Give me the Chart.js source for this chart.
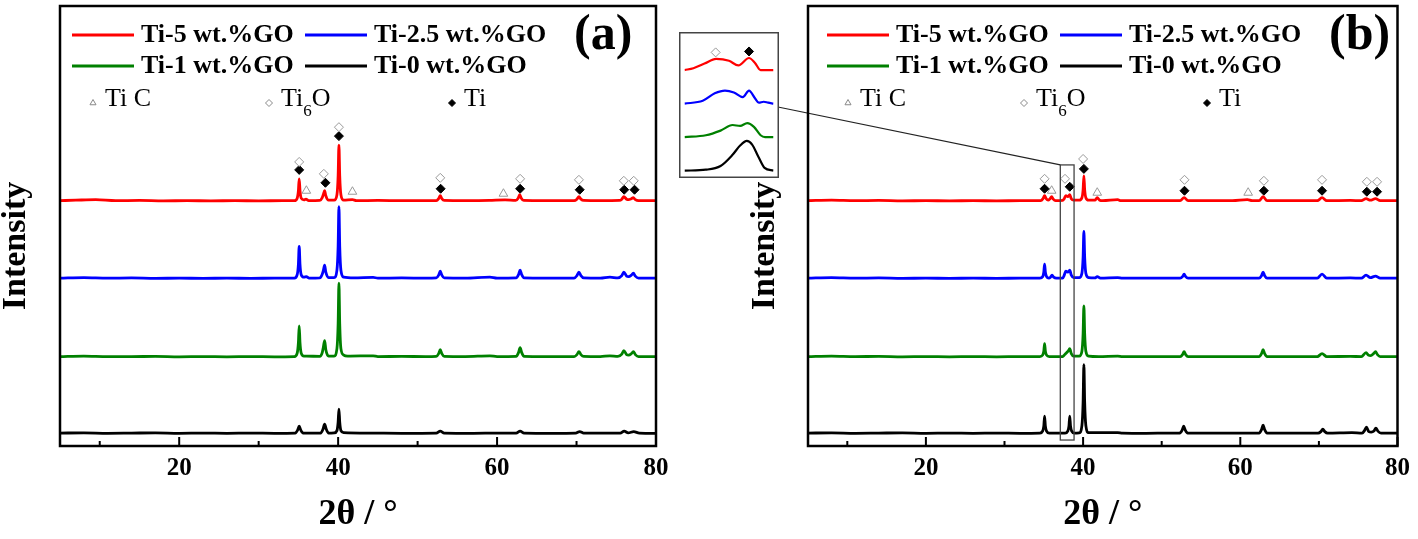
<!DOCTYPE html>
<html>
<head>
<meta charset="utf-8">
<script src="https://cdn.jsdelivr.net/npm/chart.js@4.4.1/dist/chart.umd.min.js"></script>
<style>
  body { margin: 0; background: #fff; }
  #wrap { position: relative; width: 1418px; height: 539px; background: #fff; overflow: hidden; }
  canvas { position: absolute; }
  #chartA { left: 0; top: 0; }
  #chartB { left: 680px; top: 0; }
  #inset { left: 679px; top: 32px; z-index: 2; }
</style>
</head>
<body>
<div id="wrap">
  <canvas id="chartA" width="680" height="539" style="width:680px;height:539px"></canvas>
  <canvas id="chartB" width="738" height="539" style="width:738px;height:539px"></canvas>
  <canvas id="inset" width="100" height="146" style="width:100px;height:146px"></canvas>
</div>
<script>
// Подписи серий и фаз
const seriesNames = ['Ti-5 wt.%GO', 'Ti-2.5 wt.%GO', 'Ti-1 wt.%GO', 'Ti-0 wt.%GO'];
const seriesColors = ['#ff0000', '#0000ff', '#008000', '#000000'];
// Сдвиг кривых по оси интенсивности (красная, синяя, зелёная, чёрная)
const seriesOffsets = [246, 168, 89, 12];
const xTicks = [10, 20, 30, 40, 50, 60, 70, 80];

// Панель (a): [2θ, интенсивность]
const redA = [[5,1],[7,1.5],[9.5,2],[12,1],[15,1.2],[18,0.8],[21,1],[24,0.8],[27,1],[30,0.8],[33,1],
  [34.5,1],[34.85,3.5],[35.0,11],[35.1,23],[35.2,11],[35.35,3.5],[35.7,1.8],[35.95,2.5],[36.3,1],
  [37.7,1.2],[38.0,4],[38.15,7.5],[38.3,11],[38.45,6],[38.8,1.5],
  [39.5,1.5],[39.85,7],[40.0,26],[40.1,57],[40.2,26],[40.35,7],[40.7,1.5],[41.8,2],[42.3,1],
  [45,1.2],[48,1],[51,1],[52.35,1],[52.65,3],[52.85,6],[53.05,3],[53.35,1.2],[56,1],[59,1.2],[61,1.8],
  [62.35,1.2],[62.65,3.5],[62.85,7],[63.05,3.5],[63.35,1.2],[66,1],[69.7,1],[70.05,2.5],[70.3,5],[70.55,2.5],[70.9,1.2],[73,1],[75.4,1.2],
  [75.7,2.5],[75.95,5],[76.3,2.5],[76.55,2],[76.9,3],[77.15,4],[77.4,2],[77.8,1],[80,1]];
const blueA = [[5,1],[8,1.5],[11,1],[14,1.2],[17,0.8],[20,1],[23,0.8],[26,1],[29,0.8],[32,1],
  [34.5,1],[34.85,4.5],[35.0,15],[35.1,33],[35.2,15],[35.35,4.5],[35.7,2],[36.0,2.5],[36.35,1],
  [37.7,1.2],[38.0,5],[38.15,9],[38.3,14],[38.45,7],[38.8,1.5],
  [39.5,1.5],[39.85,9],[40.0,33],[40.1,73],[40.2,33],[40.35,9],[40.7,2],[42,1.2],[44.4,1.8],[45,1],
  [48,1.2],[51,1],[52.35,1.2],[52.65,4],[52.85,8],[53.05,4],[53.35,1.2],[56,1],[59.1,2],[60,1],
  [62.4,1.2],[62.7,4.5],[62.9,9],[63.1,4.5],[63.4,1.2],[66,1],[69.7,1],[70.05,3.5],[70.3,7],[70.55,3.5],[70.9,1.2],[73,1],[74.2,2],[75.2,1.2],
  [75.7,3.5],[75.95,7],[76.3,3],[76.55,2.5],[76.9,4],[77.15,6],[77.4,3],[77.8,1],[80,1]];
const greenA = [[5,1],[8,1.5],[11,1],[14,1],[17,1.2],[20,0.8],[23,1],[26,0.8],[29,1],[32,0.8],
  [34.5,1],[34.85,4.5],[35.0,15],[35.1,32],[35.2,15],[35.35,4.5],[35.7,1.5],[36.0,1.5],
  [37.7,1.2],[38.0,5],[38.15,11],[38.3,17],[38.45,8],[38.8,1.5],
  [39.5,1.5],[39.85,9],[40.0,34],[40.1,75],[40.2,34],[40.35,9],[40.7,2.5],[41.2,1.5],[44.4,1.8],[45,1],
  [48,1.2],[51,1],[52.35,1.2],[52.65,4],[52.85,8],[53.05,4],[53.35,1.2],[56,1],[59.1,1.8],[60,1],
  [62.4,1.2],[62.7,5],[62.9,10],[63.1,5],[63.4,1.2],[66,1],[69.7,1],[70.05,3],[70.3,6],[70.55,3],[70.9,1.2],[73,1],[74.2,1.8],[75.2,1.2],
  [75.7,3.5],[75.95,7],[76.3,3],[76.55,2.5],[76.9,4],[77.15,6],[77.4,3],[77.8,1],[80,1]];
const blackA = [[5,1],[8,1.2],[11,0.8],[14,1],[17,1.2],[20,0.8],[23,1],[26,0.8],[29,1],[32,0.8],
  [34.6,1],[34.9,4],[35.1,8],[35.3,4],[35.6,1],
  [37.8,1],[38.1,5],[38.3,10],[38.5,5],[38.8,1],
  [39.5,1.2],[39.85,3.5],[40.0,12],[40.1,25],[40.2,12],[40.35,3.5],[40.7,1.5],
  [44,1],[48,0.8],[52.35,1],[52.85,3],[53.35,1],[57,0.8],[60,1],
  [62.4,1],[62.9,3],[63.4,1],[67,0.8],[69.9,1],[70.4,2.5],[70.9,1],[74,1],
  [75.5,1],[76.0,3],[76.5,1.2],[77.2,2.5],[77.9,1],[80,0.8]];

// Панель (b)
const redB = [[5,1],[8,1.5],[11,1],[14,1.2],[17,0.8],[20,1],[23,0.8],[26,1],[29,0.8],[32,1],
  [34.6,1],[34.9,3],[35.1,6],[35.3,3],[35.55,1.5],[35.8,3],[36.0,5],[36.2,2.5],[36.5,1],
  [37.4,1.2],[37.6,3],[37.8,6],[38.05,5],[38.3,7],[38.5,3],[38.8,1.5],
  [39.5,1.5],[39.85,4],[40.0,12],[40.1,26],[40.2,12],[40.35,4],[40.7,1.5],[41.5,1.5],[41.8,4],[42.1,1.5],[42.5,1],[44.4,2],[44.8,1],
  [48,1],[51,1],[52.35,1],[52.85,4],[53.35,1],[56,1],[59,1],[60.9,2],[61.5,1],
  [62.4,1],[62.9,5],[63.4,1],[66,1],[69.8,1],[70.4,4],[71,1],[74,1.2],[75.4,1],
  [76.0,3],[76.55,1.5],[77.2,3],[77.8,1],[80,1]];
const blueB = [[5,1],[8,1.5],[11,1],[14,1.2],[17,0.8],[20,1],[23,0.8],[26,1],[29,0.8],[32,1],
  [34.5,1],[34.85,2.5],[35.0,7],[35.1,15],[35.2,7],[35.35,2.5],[35.65,1],[35.85,2],[36.05,4],[36.25,2],[36.6,1],
  [37.4,1],[37.6,4],[37.8,8],[38.05,7],[38.3,9],[38.5,4],[38.8,1.5],
  [39.5,1.5],[39.85,6],[40.0,22],[40.1,48],[40.2,22],[40.35,6],[40.7,1.5],[41.5,1.2],[41.8,2.5],[42.2,1],[44.4,1.5],[45,1],
  [48,1],[51,1],[52.35,1],[52.65,2.5],[52.85,5],[53.05,2.5],[53.35,1],[56,1],[59,1],
  [62.4,1],[62.7,3.5],[62.9,7],[63.1,3.5],[63.4,1],[66,1],[69.8,1],[70.4,5],[71,1],[74,1.2],[75.4,1],
  [76.0,4],[76.55,1.5],[77.2,3],[77.8,1],[80,1]];
const greenB = [[5,1],[8,1.5],[11,1],[14,1.2],[17,0.8],[20,1],[23,0.8],[26,1],[29,0.8],[32,1],
  [34.5,1],[34.85,2.5],[35.0,6.5],[35.1,14],[35.2,6.5],[35.35,2.5],[35.7,1],
  [37.4,1],[37.65,3],[37.9,5],[38.1,6.5],[38.3,9],[38.5,4],[38.8,1.5],
  [39.5,1.5],[39.85,6.5],[40.0,24],[40.1,52],[40.2,24],[40.35,6.5],[40.7,1.5],[42,1],[44.4,1.5],[45,1],
  [48,1],[51,1],[52.35,1],[52.65,3],[52.85,6],[53.05,3],[53.35,1],[56,1],[59,1],
  [62.4,1],[62.7,4],[62.9,8],[63.1,4],[63.4,1],[66,1],[69.8,1],[70.4,4],[71,1],[74,1.2],[75.4,1],
  [76.0,5],[76.3,2.5],[76.6,2],[76.95,4],[77.2,6],[77.45,3],[77.8,1],[80,1]];
const blackB = [[5,1],[8,1.2],[11,0.8],[14,1],[17,1.2],[20,0.8],[23,1],[26,0.8],[29,1],[32,0.8],
  [34.5,1],[34.85,3],[35.0,8],[35.1,18],[35.2,8],[35.35,3],[35.7,1],
  [37.7,1],[38.05,3],[38.2,8],[38.3,18],[38.4,8],[38.55,3],[38.9,1],
  [39.5,1.2],[39.85,8.5],[40.0,32],[40.1,70],[40.2,32],[40.35,8.5],[40.7,1.5],[44.4,1.5],[45,1],
  [48,0.8],[51,1],[52.3,1],[52.6,4],[52.8,8],[53.0,4],[53.3,1],[56,1],[59,1],
  [62.4,1],[62.7,4.5],[62.9,9],[63.1,4.5],[63.4,1],[66,1],[69.9,1],[70.25,2.5],[70.5,5],[70.75,2.5],[71.1,1],[74.2,1.5],[75.5,1],
  [75.8,3.5],[76.05,7],[76.35,2.5],[76.65,2],[77.0,3],[77.25,6],[77.5,3],[77.9,1],[80,1]];

// Метки фаз над пиками: ◇ Ti6O, ◆ Ti, △ TiC
const ti6oA = [[35.1,286],[38.2,274],[40.1,321],[52.85,270],[62.9,269],[70.3,268],[75.95,267],[77.2,267]];
const tiA = [[35.1,278],[38.4,265],[40.1,312],[52.9,259],[62.9,259],[70.4,258],[76.0,258],[77.3,258]];
const ticA = [[36.0,257],[41.8,256],[60.8,254]];
const ti6oB = [[35.1,269],[37.7,269],[40.0,289],[52.9,268],[63.0,267],[70.4,268],[76.1,266],[77.4,266]];
const tiB = [[35.1,259],[38.3,261],[40.1,279],[52.9,257],[63.0,257],[70.4,257],[76.1,256],[77.4,256]];
const ticB = [[36.0,257],[41.8,255],[61.0,255]];

// Окно увеличения: 2θ от, до; интенсивность от, до
const zoomWindow = [37.1, 38.85, 6, 283];

// Вставка (увеличенный участок 37–39°)
const redInset = [[37.0,110],[37.2,112],[37.45,117],[37.71,122],[38.0,120],[38.21,115],[38.45,123],[38.58,118],[38.71,110],[39.0,110]];
const blueInset = [[37.0,74],[37.41,77],[37.68,85],[37.91,88],[38.11,86],[38.31,81],[38.45,88],[38.58,80],[38.67,75],[38.78,76],[38.88,75],[39.0,74]];
const greenInset = [[37.0,38],[37.48,40],[37.81,45],[38.08,51],[38.25,50],[38.41,53],[38.56,49],[38.71,40],[38.81,38],[39.0,38]];
const blackInset = [[37.0,2],[37.48,3],[37.81,7],[38.08,19],[38.25,29],[38.4,34],[38.52,30],[38.66,17],[38.8,5],[39.0,2]];
const ti6oInset = [[37.7,129]];
const tiInset = [[38.45,130]];

Chart.defaults.font.family = '"Liberation Serif", "Times New Roman", serif';
Chart.defaults.color = '#000';

const FONT = '"Liberation Serif", "Times New Roman", serif';

function shift(points, off) {
    return points.map(p => [p[0], p[1] + off]);
}

function lineSet(points, i, width) {
    return {
        data: shift(points, seriesOffsets[i] || 0),
        borderColor: seriesColors[i],
        borderWidth: width || 2.8,
        pointRadius: 0,
        fill: false,
        cubicInterpolationMode: 'monotone'
    };
}

function markerSet(points, style, fillColor, strokeColor, radius) {
    return {
        type: 'scatter',
        data: points,
        showLine: false,
        pointStyle: style,
        pointRadius: radius,
        pointBackgroundColor: fillColor,
        pointBorderColor: strokeColor,
        pointBorderWidth: 1
    };
}

function drawMark(ctx, style, fill, stroke, r, x, y) {
    ctx.fillStyle = fill;
    ctx.strokeStyle = stroke;
    ctx.lineWidth = 1;
    Chart.helpers.drawPoint(ctx, { pointStyle: style, radius: r, borderWidth: 1 }, x, y);
}

// Рамка, засечки, легенда и окно увеличения
const panelDecor = {
    id: 'panelDecor',
    afterDatasetsDraw(chart, args, opts) {
        const { ctx, chartArea: a, scales: { x, y } } = chart;
        ctx.save();

        // засечки внутрь
        ctx.strokeStyle = '#000';
        ctx.lineWidth = 2;
        xTicks.forEach(v => {
            const px = x.getPixelForValue(v);
            const len = v % 20 === 0 ? 9 : 5;
            ctx.beginPath();
            ctx.moveTo(px, a.bottom);
            ctx.lineTo(px, a.bottom - len);
            ctx.stroke();
        });

        // окно увеличения и линия к вставке
        if (opts.zoom) {
            const x1 = x.getPixelForValue(zoomWindow[0]);
            const x2 = x.getPixelForValue(zoomWindow[1]);
            const yb = y.getPixelForValue(zoomWindow[2]);
            const yt = y.getPixelForValue(zoomWindow[3]);
            ctx.strokeStyle = '#444';
            ctx.lineWidth = 1.3;
            ctx.strokeRect(x1, yt, x2 - x1, yb - yt);
            const inset = document.getElementById('inset');
            const ox = inset.offsetLeft + inset.width - chart.canvas.offsetLeft;
            const oy = inset.offsetTop + 75;
            ctx.strokeStyle = '#222';
            ctx.lineWidth = 1.2;
            ctx.beginPath();
            ctx.moveTo(ox - 1, oy);
            ctx.lineTo(x1, yt);
            ctx.stroke();
        }

        // рамка
        ctx.strokeStyle = '#000';
        ctx.lineWidth = 2.5;
        ctx.strokeRect(a.left, a.top, a.right - a.left, a.bottom - a.top);

        // подпись оси Y
        ctx.save();
        ctx.translate(opts.titleX, 246);
        ctx.rotate(-Math.PI / 2);
        ctx.font = 'bold 34px ' + FONT;
        ctx.fillStyle = '#000';
        ctx.textAlign = 'center';
        ctx.textBaseline = 'middle';
        ctx.fillText('Intensity', 0, 0);
        ctx.restore();

        // легенда
        const lx = a.left + opts.start;
        const rows = [a.top + 29, a.top + 60, a.top + 93];
        ctx.font = 'bold 26px ' + FONT;
        ctx.textBaseline = 'middle';
        ctx.textAlign = 'left';
        seriesNames.forEach((name, i) => {
            const col = i % 2, row = Math.floor(i / 2);
            const sx = lx + col * 233;
            const sy = rows[row];
            ctx.strokeStyle = seriesColors[i];
            ctx.lineWidth = 3;
            ctx.beginPath();
            ctx.moveTo(sx, sy);
            ctx.lineTo(sx + 62, sy);
            ctx.stroke();
            ctx.fillStyle = '#000';
            ctx.fillText(name, sx + 69, sy);
        });
        ctx.font = 'bold 50px ' + FONT;
        ctx.fillText(opts.tag, lx + 502, rows[0] + 1);

        // строка фаз
        const ry = rows[2];
        ctx.font = '26px ' + FONT;
        drawMark(ctx, 'triangle', '#fff', '#888', 3.5, lx + 21, ry + 4);
        ctx.fillStyle = '#000';
        ctx.fillText('Ti C', lx + 33, ry);
        drawMark(ctx, 'rectRot', '#fff', '#888', 3.5, lx + 197, ry + 4);
        ctx.fillStyle = '#000';
        ctx.fillText('Ti', lx + 209, ry);
        const tw = ctx.measureText('Ti').width;
        ctx.font = '17px ' + FONT;
        ctx.fillText('6', lx + 209 + tw, ry + 13);
        const sw = ctx.measureText('6').width;
        ctx.font = '26px ' + FONT;
        ctx.fillText('O', lx + 209 + tw + sw, ry);
        drawMark(ctx, 'rectRot', '#000', '#000', 3.5, lx + 380, ry + 4);
        ctx.fillStyle = '#000';
        ctx.fillText('Ti', lx + 392, ry);

        ctx.restore();
    }
};

function makePanel(id, series, ti6o, ti, tic, opts) {
    const datasets = series.map((s, i) => lineSet(s, i));
    datasets.push(markerSet(ti6o, 'rectRot', '#fff', '#999', 4.5));
    datasets.push(markerSet(ti, 'rectRot', '#000', '#000', 4.5));
    datasets.push(markerSet(tic, 'triangle', '#fff', '#999', 5));

    return new Chart(document.getElementById(id), {
        type: 'line',
        data: { datasets: datasets },
        options: {
            responsive: false,
            animation: false,
            devicePixelRatio: 1,
            layout: { padding: { left: 0, top: 3, right: opts.padRight, bottom: 0 } },
            plugins: {
                legend: { display: false },
                tooltip: { enabled: false },
                panelDecor: { tag: opts.tag, start: opts.start, zoom: opts.zoom, titleX: opts.titleX }
            },
            scales: {
                x: {
                    type: 'linear',
                    min: 5,
                    max: 80,
                    grid: { display: false, drawTicks: false },
                    border: { display: false },
                    afterBuildTicks: s => { s.ticks = xTicks.map(v => ({ value: v })); },
                    afterFit: s => { s.height = 93; },
                    ticks: {
                        autoSkip: false,
                        maxRotation: 0,
                        padding: 8,
                        color: '#000',
                        font: { size: 25, weight: 'bold', family: FONT },
                        callback: v => (v % 20 === 0 ? v : '')
                    },
                    title: {
                        display: true,
                        text: '2θ / °',
                        color: '#000',
                        font: { size: 36, weight: 'bold', family: FONT, lineHeight: 1 },
                        padding: { top: 0, bottom: 6 }
                    }
                },
                y: {
                    min: 0,
                    max: 443,
                    grid: { display: false, drawTicks: false },
                    border: { display: false },
                    ticks: { display: false },
                    afterFit: s => { s.width = opts.axisWidth; },
                    title: { display: false }
                }
            }
        },
        plugins: [panelDecor]
    });
}

const insetFrame = {
    id: 'insetFrame',
    beforeDraw(chart) {
        const { ctx, width, height } = chart;
        ctx.save();
        ctx.fillStyle = '#fff';
        ctx.fillRect(0, 0, width, height);
        ctx.restore();
    },
    afterDatasetsDraw(chart) {
        const { ctx, width, height } = chart;
        ctx.save();
        ctx.strokeStyle = '#444';
        ctx.lineWidth = 1.5;
        ctx.strokeRect(0.75, 0.75, width - 1.5, height - 1.5);
        ctx.restore();
    }
};

function makeInset() {
    const datasets = [redInset, blueInset, greenInset, blackInset].map((s, i) => {
        const d = lineSet(s, i, 2.2);
        d.data = s;
        return d;
    });
    datasets.push(markerSet(ti6oInset, 'rectRot', '#fff', '#999', 4.5));
    datasets.push(markerSet(tiInset, 'rectRot', '#000', '#000', 4.5));
    return new Chart(document.getElementById('inset'), {
        type: 'line',
        data: { datasets: datasets },
        options: {
            responsive: false,
            animation: false,
            devicePixelRatio: 1,
            layout: { padding: 0 },
            plugins: { legend: { display: false }, tooltip: { enabled: false } },
            scales: {
                x: { type: 'linear', min: 37, max: 39, display: false },
                y: { min: 0, max: 145, display: false }
            }
        },
        plugins: [insetFrame]
    });
}

makePanel('chartA', [redA, blueA, greenA, blackA], ti6oA, tiA, ticA,
    { tag: '(a)', start: 12, zoom: false, padRight: 24, axisWidth: 60, titleX: 16 });
makePanel('chartB', [redB, blueB, greenB, blackB], ti6oB, tiB, ticB,
    { tag: '(b)', start: 19, zoom: true, padRight: 14, axisWidth: 128, titleX: 85 });
makeInset();
</script>
</body>
</html>
